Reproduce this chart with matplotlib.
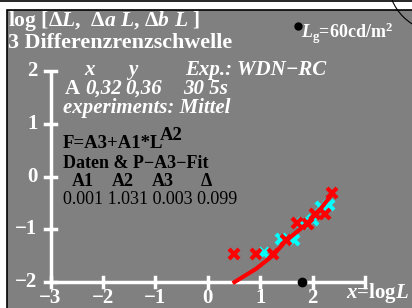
import matplotlib
matplotlib.use("Agg")
import matplotlib.pyplot as plt
from matplotlib.patches import Rectangle, Circle

plt.rcParams["font.family"] = "Liberation Serif"
plt.rcParams["font.weight"] = "bold"
plt.rcParams["mathtext.fontset"] = "custom"
plt.rcParams["mathtext.rm"] = "Liberation Serif:bold"
plt.rcParams["mathtext.it"] = "Liberation Serif:italic:bold"
plt.rcParams["mathtext.bf"] = "Liberation Serif:bold"

# data
red_x = [0.51, 0.92, 1.24, 1.49, 1.70, 1.91, 2.05, 2.23, 2.37]
red_y = [-1.47, -1.47, -1.47, -1.20, -0.88, -0.90, -0.70, -0.71, -0.30]
cyan_x = [1.08, 1.40, 1.65, 1.81, 2.00, 2.16, 2.32]
cyan_y = [-1.45, -1.18, -1.20, -0.87, -0.83, -0.57, -0.53]
fit_x = [0.51, 0.92, 1.24, 1.49, 1.88, 2.10, 2.35]
fit_y = [-2.00, -1.75, -1.50, -1.22, -0.90, -0.68, -0.36]
xticks = [-3, -2, -1, 0, 1, 2]
yticks = [-2, -1, 0, 1, 2]
dot_x, dot_y = 1.80, -2.0

W, H = 412, 308
fig = plt.figure(figsize=(W / 100, H / 100), dpi=100, facecolor="white")

# background / frame in pixel coordinates
bg = fig.add_axes([0, 0, 1, 1])
bg.set_xlim(0, W)
bg.set_ylim(H, 0)
bg.axis("off")
bg.add_patch(Rectangle((7.5, 9.5), W, H, facecolor="#808080", edgecolor="black", lw=1.2))
bg.plot([0, W], [1.2, 1.2], color="black", lw=1.2)
bg.add_patch(Circle((440, -20), 52, fill=False, edgecolor="black", lw=0.8, clip_on=True))

wc = "white"
fs = 15
bg.text(8, 21, r"log [$\Delta L$,  $\Delta a\ L$, $\Delta b\ L$ ]", color=wc, fontsize=15.5, va="center")
bg.text(8, 43, "3 Differenzrenzschwelle", color=wc, fontsize=15.8, va="center")
bg.text(90, 70, "x", color=wc, fontsize=fs, style="italic", va="center", ha="center")
bg.text(133, 70, "y", color=wc, fontsize=fs, style="italic", va="center", ha="center")
bg.text(185, 70, "Exp.: WDN\u2212RC", color=wc, fontsize=fs, style="italic", va="center")
bg.text(65, 89, "A", color=wc, fontsize=fs, va="center")
bg.text(85, 89, "0,32", color=wc, fontsize=fs, style="italic", va="center")
bg.text(125, 89, "0,36", color=wc, fontsize=fs, style="italic", va="center")
bg.text(183, 89, "30 5s", color=wc, fontsize=fs, style="italic", va="center")
bg.text(63, 108, "experiments: Mittel", color=wc, fontsize=fs, style="italic", va="center")
bg.text(63, 144, "F=A3+A1*L", color="black", fontsize=13.5, va="center")
bg.text(160, 135, "A2", color="black", fontsize=13.5, va="center")
bg.text(63, 163, "Daten & P\u2212A3\u2212Fit", color="black", fontsize=13, va="center")
for lab, px in zip(["A1", "A2", "A3", "\u0394"], [72, 112, 152, 201]):
    bg.text(px, 182, lab, color="black", fontsize=13, va="center")
bg.text(63, 199, "0.001 1.031 0.003 0.099", color="black", fontsize=13, weight="normal", va="center")
bg.plot([297.7], [26], "o", color="black", ms=5)
bg.text(301, 33, r"$L_{\rm g}$=60cd/m$^2$", color=wc, fontsize=13, va="center")
bg.text(409, 293, r"$x$=log$L$", color=wc, fontsize=15, va="center", ha="right")

# data axes, mapped so x=-3..3 and y=-2..2 land where the reference has them
x0, sx = 207.7, 52.4
y0, sy = 176.7, 52.7
ax = fig.add_axes([0, 0, 1, 1], facecolor="none")
ax.set_xlim((0 - x0) / sx, (W - x0) / sx)
ax.set_ylim((y0 - H) / sy, y0 / sy)
ax.axis("off")

ax.plot([-3, 3], [-2, -2], color=wc, lw=2.5, solid_capstyle="butt")
ax.plot([-3, -3], [-2, 2], color=wc, lw=2.5, solid_capstyle="butt")
for t in xticks + [3]:
    ax.plot([t, t], [-2.1, -1.9], color=wc, lw=2.5)
for t in yticks:
    ax.plot([-3.1, -2.9], [t, t], color=wc, lw=2.5)
for t in xticks:
    ax.text(t, -2.3, str(t).replace("-", "\u2212"), color=wc, fontsize=15, ha="center", va="center")
for t in yticks:
    ax.text(-3.25, t, str(t).replace("-", "\u2212"), color=wc, fontsize=15, ha="right", va="center")

ax.plot(cyan_x, cyan_y, "x", color="#00ffff", ms=7, mew=3, ls="none")
ax.plot(red_x, red_y, "x", color="red", ms=7.5, mew=3, ls="none")
ax.plot(fit_x, fit_y, color="red", lw=3)
ax.plot([dot_x], [dot_y], "o", color="black", ms=6, clip_on=False)

fig.savefig("out.png", dpi=100)
